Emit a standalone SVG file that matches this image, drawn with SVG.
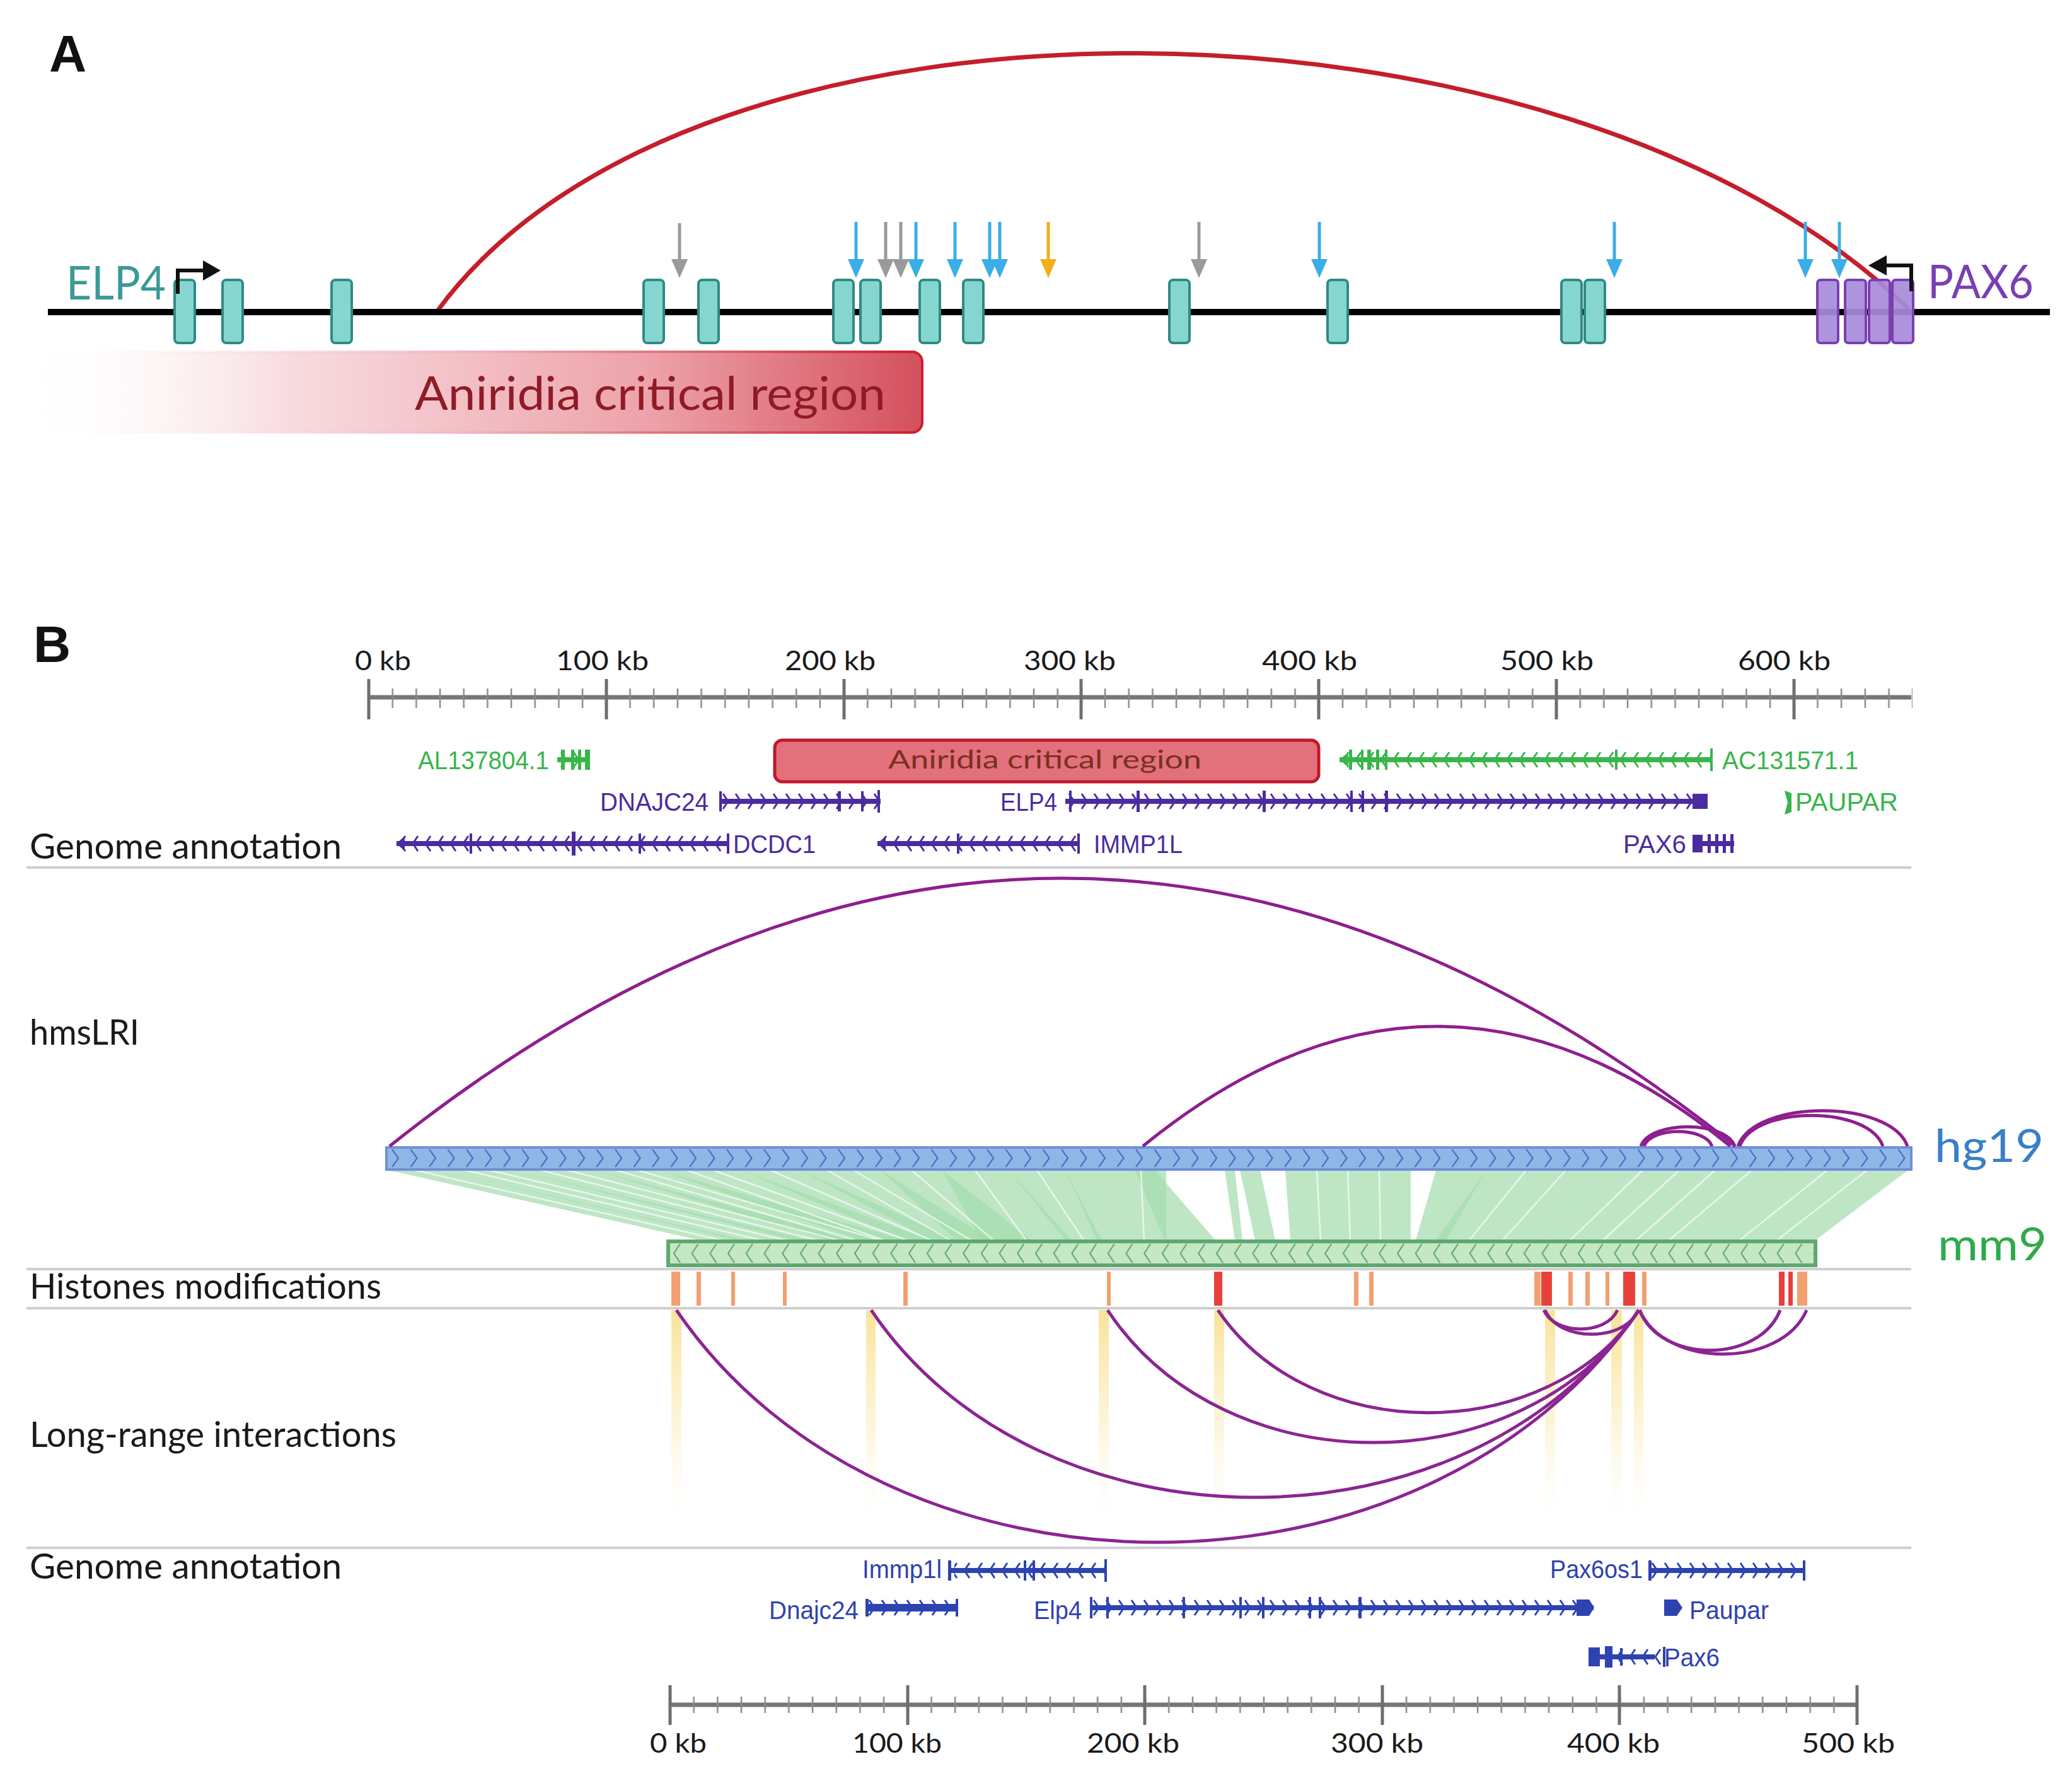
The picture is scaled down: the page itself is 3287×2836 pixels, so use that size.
<svg xmlns="http://www.w3.org/2000/svg" width="3287" height="2836" viewBox="0 0 3287 2836">
<style>
.lab{font-family:Lato,"Open Sans","Liberation Sans",sans-serif;fill:#1a1a1a}
.sec{font-family:Lato,"Open Sans","Liberation Sans",sans-serif;font-size:56px;fill:#1a1a1a}
.gene{font-family:"Liberation Sans",Arial,sans-serif;font-size:40px}
.hp{fill:#4B2BA0}.hg{fill:#38B54B}.mb{fill:#2D43B0}
.exT{fill:#86D6D0;stroke:#2F8A85;stroke-width:4}
.exP{fill:#A78BDA;stroke:#7A3FB0;stroke-width:4;fill-opacity:0.92}
.sep{stroke:#CFCFCF;stroke-width:4}
.arcH{fill:none;stroke:#8E1F8E;stroke-width:5}
.arcL{fill:none;stroke:#8B2592;stroke-width:5}
.syn{fill:#A3DCAC;fill-opacity:0.7}
.tex{stroke:#FFFFFF;stroke-width:2.5;stroke-opacity:0.65}
.hmO{fill:#F2A070}.hmR{fill:#E8413C}
.hl{fill:url(#hl)}
.maj{stroke:#6E6E6E;stroke-width:5}
</style>
<defs>
<linearGradient id="acrA" x1="0" y1="0" x2="1" y2="0">
<stop offset="0" stop-color="#FFFFFF" stop-opacity="0"/>
<stop offset="0.3" stop-color="#F8DCE0"/>
<stop offset="0.7" stop-color="#EDA2AA"/>
<stop offset="1" stop-color="#D4505D"/>
</linearGradient>
<linearGradient id="acrAs" x1="0" y1="0" x2="1" y2="0">
<stop offset="0" stop-color="#FFFFFF" stop-opacity="0"/>
<stop offset="0.5" stop-color="#F2B6BD"/>
<stop offset="1" stop-color="#C8202E"/>
</linearGradient>
<linearGradient id="hl" x1="0" y1="0" x2="0" y2="1">
<stop offset="0" stop-color="#F8E08E" stop-opacity="0.9"/>
<stop offset="0.5" stop-color="#FBEDBD" stop-opacity="0.6"/>
<stop offset="1" stop-color="#FFF9E8" stop-opacity="0"/>
</linearGradient>
<marker id="mBlue" markerUnits="userSpaceOnUse" viewBox="0 -14 30 28" refX="0" refY="0" markerWidth="30" markerHeight="28" orient="auto"><path d="M0,-13 L30,0 L0,13 z" fill="#3AAEE6"/></marker>
<marker id="mGrey" markerUnits="userSpaceOnUse" viewBox="0 -14 30 28" refX="0" refY="0" markerWidth="30" markerHeight="28" orient="auto"><path d="M0,-13 L30,0 L0,13 z" fill="#9A9A9A"/></marker>
<marker id="mOrange" markerUnits="userSpaceOnUse" viewBox="0 -14 30 28" refX="0" refY="0" markerWidth="30" markerHeight="28" orient="auto"><path d="M0,-13 L30,0 L0,13 z" fill="#F2AE1B"/></marker>
<pattern id="minor" patternUnits="userSpaceOnUse" x="-18.84" y="0" width="37.68" height="31"><rect x="17.6" y="0" width="2.5" height="31" fill="#8A8A8A"/></pattern>
<pattern id="hgC" patternUnits="userSpaceOnUse" x="0" y="0" width="29.5" height="34"><path d="M9,3 L19,17 L9,31" fill="none" stroke="#3F63C0" stroke-width="2"/></pattern>
<pattern id="mmC" patternUnits="userSpaceOnUse" x="0" y="0" width="28.7" height="38"><path d="M19,4 L9,19 L19,34" fill="none" stroke="#5FA06B" stroke-width="2"/></pattern>
<pattern id="pR" patternUnits="userSpaceOnUse" x="0" y="-15" width="20" height="30"><path d="M6,3 L14,15 L6,27" fill="none" stroke="#4B2BA0" stroke-width="3"/></pattern>
<pattern id="pL" patternUnits="userSpaceOnUse" x="0" y="-15" width="20" height="30"><path d="M14,3 L6,15 L14,27" fill="none" stroke="#4B2BA0" stroke-width="3"/></pattern>
<pattern id="gL" patternUnits="userSpaceOnUse" x="0" y="-15" width="20" height="30"><path d="M14,3 L6,15 L14,27" fill="none" stroke="#38B54B" stroke-width="3"/></pattern>
<pattern id="gR" patternUnits="userSpaceOnUse" x="0" y="-15" width="20" height="30"><path d="M6,3 L14,15 L6,27" fill="none" stroke="#38B54B" stroke-width="3"/></pattern>
<pattern id="bR" patternUnits="userSpaceOnUse" x="0" y="-15" width="20" height="30"><path d="M6,3 L14,15 L6,27" fill="none" stroke="#2D43B0" stroke-width="3"/></pattern>
<pattern id="bL" patternUnits="userSpaceOnUse" x="0" y="-15" width="20" height="30"><path d="M14,3 L6,15 L14,27" fill="none" stroke="#2D43B0" stroke-width="3"/></pattern>
</defs>
<rect width="3287" height="2836" fill="#FFFFFF"/>

<!-- ================= PANEL A ================= -->
<g id="panelA">
<text x="78" y="113" font-family="Liberation Sans, Arial, sans-serif" font-weight="bold" font-size="82" fill="#111">A</text>
<g id="acrA-box">
<rect x="21" y="558" width="1442" height="128" rx="16" fill="url(#acrA)" stroke="url(#acrAs)" stroke-width="4"/>
<text class="lab" x="658" y="650" font-size="74" style="fill:#8E1B25" textLength="747" lengthAdjust="spacingAndGlyphs">Aniridia critical region</text>
</g>
<path id="red-arc" d="M694,493 C1100,-62 2480,-40 3027,489" fill="none" stroke="#C41E2A" stroke-width="7"/>
<line id="chrom" x1="76" y1="495" x2="3252" y2="495" stroke="#000" stroke-width="10"/>
<g id="exons-teal">
<rect class="exT" x="277" y="444" width="32" height="100" rx="6"/>
<rect class="exT" x="353" y="444" width="32" height="100" rx="6"/>
<rect class="exT" x="526" y="444" width="32" height="100" rx="6"/>
<rect class="exT" x="1021" y="444" width="32" height="100" rx="6"/>
<rect class="exT" x="1108" y="444" width="32" height="100" rx="6"/>
<rect class="exT" x="1322" y="444" width="32" height="100" rx="6"/>
<rect class="exT" x="1365" y="444" width="32" height="100" rx="6"/>
<rect class="exT" x="1459" y="444" width="32" height="100" rx="6"/>
<rect class="exT" x="1528" y="444" width="32" height="100" rx="6"/>
<rect class="exT" x="1855" y="444" width="32" height="100" rx="6"/>
<rect class="exT" x="2106" y="444" width="32" height="100" rx="6"/>
<rect class="exT" x="2477" y="444" width="32" height="100" rx="6"/>
<rect class="exT" x="2514" y="444" width="32" height="100" rx="6"/>
</g>
<g id="exons-purple">
<rect class="exP" x="2883" y="444" width="33" height="100" rx="5"/>
<rect class="exP" x="2927" y="444" width="33" height="100" rx="5"/>
<rect class="exP" x="2965" y="444" width="33" height="100" rx="5"/>
<rect class="exP" x="3002" y="444" width="33" height="100" rx="5"/>
</g>
<g id="elp4-label">
<text class="lab" x="105" y="475" font-size="74" style="fill:#3B9996" textLength="158" lengthAdjust="spacingAndGlyphs">ELP4</text>
<path d="M282,466 V429 H324" fill="none" stroke="#111" stroke-width="6"/>
<polygon points="350,429 322,413 322,445" fill="#111"/>
</g>
<g id="pax6-label">
<text class="lab" x="3058" y="473" font-size="74" style="fill:#7A3FB5" textLength="168" lengthAdjust="spacingAndGlyphs">PAX6</text>
<path d="M3032,462 V421 H2990" fill="none" stroke="#111" stroke-width="6"/>
<polygon points="2964,421 2993,405 2993,437" fill="#111"/>
</g>
<g id="variant-arrows" stroke-width="5">
<line x1="1078" y1="354" x2="1078" y2="411" stroke="#9A9A9A" marker-end="url(#mGrey)"/>
<line x1="1405" y1="352" x2="1405" y2="411" stroke="#9A9A9A" marker-end="url(#mGrey)"/>
<line x1="1429" y1="352" x2="1429" y2="411" stroke="#9A9A9A" marker-end="url(#mGrey)"/>
<line x1="1902" y1="352" x2="1902" y2="411" stroke="#9A9A9A" marker-end="url(#mGrey)"/>
<line x1="1358" y1="352" x2="1358" y2="411" stroke="#3AAEE6" marker-end="url(#mBlue)"/>
<line x1="1453" y1="352" x2="1453" y2="411" stroke="#3AAEE6" marker-end="url(#mBlue)"/>
<line x1="1515" y1="352" x2="1515" y2="411" stroke="#3AAEE6" marker-end="url(#mBlue)"/>
<line x1="1570" y1="352" x2="1570" y2="411" stroke="#3AAEE6" marker-end="url(#mBlue)"/>
<line x1="1586" y1="352" x2="1586" y2="411" stroke="#3AAEE6" marker-end="url(#mBlue)"/>
<line x1="2093" y1="352" x2="2093" y2="411" stroke="#3AAEE6" marker-end="url(#mBlue)"/>
<line x1="2561" y1="352" x2="2561" y2="411" stroke="#3AAEE6" marker-end="url(#mBlue)"/>
<line x1="2864" y1="352" x2="2864" y2="411" stroke="#3AAEE6" marker-end="url(#mBlue)"/>
<line x1="2918" y1="352" x2="2918" y2="411" stroke="#3AAEE6" marker-end="url(#mBlue)"/>
<line x1="1663" y1="352" x2="1663" y2="411" stroke="#F2AE1B" marker-end="url(#mOrange)"/>
</g>
</g>

<!-- ================= PANEL B ================= -->
<g id="panelB">
<text x="53" y="1050" font-family="Liberation Sans, Arial, sans-serif" font-weight="bold" font-size="82" fill="#111">B</text>

<g id="ruler-top">
<line x1="585" y1="1106" x2="3032" y2="1106" stroke="#777" stroke-width="7"/>
<g transform="translate(585,1092)"><rect x="0" y="0" width="2449" height="31" fill="url(#minor)"/></g>
<g class="maj">
<line x1="585" y1="1077" x2="585" y2="1141"/><line x1="962" y1="1077" x2="962" y2="1141"/><line x1="1339" y1="1077" x2="1339" y2="1141"/><line x1="1715" y1="1077" x2="1715" y2="1141"/><line x1="2092" y1="1077" x2="2092" y2="1141"/><line x1="2469" y1="1077" x2="2469" y2="1141"/><line x1="2846" y1="1077" x2="2846" y2="1141"/>
</g>
<g class="lab" font-size="42">
<text x="563" y="1063" textLength="89" lengthAdjust="spacingAndGlyphs">0 kb</text>
<text x="882" y="1063" textLength="147" lengthAdjust="spacingAndGlyphs">100 kb</text>
<text x="1245" y="1063" textLength="144" lengthAdjust="spacingAndGlyphs">200 kb</text>
<text x="1624" y="1063" textLength="146" lengthAdjust="spacingAndGlyphs">300 kb</text>
<text x="2002" y="1063" textLength="151" lengthAdjust="spacingAndGlyphs">400 kb</text>
<text x="2380" y="1063" textLength="148" lengthAdjust="spacingAndGlyphs">500 kb</text>
<text x="2757" y="1063" textLength="147" lengthAdjust="spacingAndGlyphs">600 kb</text>
</g>
</g>

<g id="acrB">
<rect x="1229" y="1174" width="863" height="66" rx="12" fill="#E2717C" stroke="#C0182A" stroke-width="5"/>
<text class="lab" x="1409" y="1219" font-size="40" style="fill:#7A3020" textLength="497" lengthAdjust="spacingAndGlyphs">Aniridia critical region</text>
</g>

<g id="human-genes">
<g id="g-AL137804">
<text class="gene hg" x="871" y="1220" text-anchor="end" textLength="208" lengthAdjust="spacingAndGlyphs">AL137804.1</text>
<g transform="translate(884,1205)"><rect x="0" y="-4" width="52" height="8" class="hg"/><rect x="0" y="-15" width="52" height="30" fill="url(#gR)"/><rect x="6" y="-16" width="6" height="32" class="hg"/><rect x="22" y="-16" width="5" height="32" class="hg"/><rect x="33" y="-16" width="5" height="32" class="hg"/><rect x="44" y="-16" width="8" height="32" class="hg"/></g>
</g>
<g id="g-AC131571">
<g transform="translate(2125,1205)"><rect x="0" y="-4" width="592" height="8" class="hg"/><rect x="12" y="-15" width="580" height="30" fill="url(#gL)"/><path d="M0,0 L14,-12 L14,12 z" class="hg"/><rect x="15" y="-16" width="5" height="32" class="hg"/><rect x="34" y="-16" width="4" height="32" class="hg"/><rect x="44" y="-16" width="6" height="32" class="hg"/><rect x="58" y="-16" width="5" height="32" class="hg"/><rect x="72" y="-16" width="4" height="32" class="hg"/><rect x="437" y="-16" width="4" height="32" class="hg"/><rect x="588" y="-18" width="4" height="36" class="hg"/></g>
<text class="gene hg" x="2732" y="1220" textLength="216" lengthAdjust="spacingAndGlyphs">AC131571.1</text>
</g>
<g id="g-DNAJC24">
<text class="gene hp" x="1124" y="1286" text-anchor="end" textLength="172" lengthAdjust="spacingAndGlyphs">DNAJC24</text>
<g transform="translate(1141,1271)"><rect x="0" y="-4" width="256" height="8" class="hp"/><rect x="0" y="-15" width="256" height="30" fill="url(#pR)"/><rect x="0" y="-16" width="4" height="32" class="hp"/><rect x="188" y="-16" width="5" height="32" class="hp"/><rect x="225" y="-16" width="4" height="32" class="hp"/><rect x="251" y="-18" width="4" height="36" class="hp"/></g>
</g>
<g id="g-ELP4">
<text class="gene hp" x="1587" y="1286" textLength="90" lengthAdjust="spacingAndGlyphs">ELP4</text>
<g transform="translate(1690,1271)"><rect x="0" y="-4" width="1019" height="8" class="hp"/><rect x="0" y="-15" width="1000" height="30" fill="url(#pR)"/><rect x="6" y="-17" width="4" height="34" class="hp"/><rect x="113" y="-17" width="5" height="34" class="hp"/><rect x="313" y="-17" width="5" height="34" class="hp"/><rect x="452" y="-17" width="4" height="34" class="hp"/><rect x="470" y="-17" width="4" height="34" class="hp"/><rect x="507" y="-17" width="5" height="34" class="hp"/><rect x="995" y="-12" width="24" height="24" class="hp"/></g>
</g>
<g id="g-PAUPAR">
<path d="M2831,1254 L2842,1258 L2842,1288 L2831,1292 L2836,1273 z" class="hg"/>
<text class="gene hg" x="2848" y="1286" textLength="163" lengthAdjust="spacingAndGlyphs">PAUPAR</text>
</g>
<g id="g-DCDC1">
<g transform="translate(629,1338)"><rect x="0" y="-4" width="528" height="8" class="hp"/><rect x="10" y="-15" width="518" height="30" fill="url(#pL)"/><path d="M0,0 L13,-12 L13,12 z" class="hp"/><rect x="116" y="-16" width="4" height="32" class="hp"/><rect x="278" y="-19" width="6" height="38" class="hp"/><rect x="384" y="-16" width="4" height="32" class="hp"/><rect x="524" y="-16" width="4" height="32" class="hp"/></g>
<text class="gene hp" x="1163" y="1353" textLength="131" lengthAdjust="spacingAndGlyphs">DCDC1</text>
</g>
<g id="g-IMMP1L">
<g transform="translate(1392,1338)"><rect x="0" y="-4" width="321" height="8" class="hp"/><rect x="10" y="-15" width="311" height="30" fill="url(#pL)"/><path d="M0,0 L13,-12 L13,12 z" class="hp"/><rect x="126" y="-16" width="4" height="32" class="hp"/><rect x="317" y="-16" width="4" height="32" class="hp"/></g>
<text class="gene hp" x="1735" y="1353" textLength="141" lengthAdjust="spacingAndGlyphs">IMMP1L</text>
</g>
<g id="g-PAX6">
<text class="gene hp" x="2575" y="1353" textLength="100" lengthAdjust="spacingAndGlyphs">PAX6</text>
<g transform="translate(2685,1338)"><rect x="0" y="-4" width="66" height="8" class="hp"/><rect x="0" y="-14" width="16" height="28" class="hp"/><rect x="24" y="-15" width="5" height="30" class="hp"/><rect x="36" y="-15" width="5" height="30" class="hp"/><rect x="48" y="-15" width="5" height="30" class="hp"/><rect x="60" y="-15" width="5" height="30" class="hp"/></g>
</g>
</g>

<text class="sec" x="47" y="1362" textLength="495" lengthAdjust="spacingAndGlyphs">Genome annotation</text>
<line class="sep" x1="42" y1="1376" x2="3032" y2="1376"/>

<text class="sec" x="47" y="1657" textLength="174" lengthAdjust="spacingAndGlyphs">hmsLRI</text>

<g id="synteny">
<polygon class="syn" points="616,1856 700,1856 1180,1967 1110,1967"/>
<polygon class="syn" points="700,1856 815,1856 1285,1967 1170,1967"/>
<polygon class="syn" points="815,1856 943,1856 1365,1967 1262,1967"/>
<polygon class="syn" points="943,1856 1046,1856 1437,1967 1317,1967"/>
<polygon class="syn" points="1046,1856 1175,1856 1477,1967 1365,1967"/>
<polygon class="syn" points="1175,1856 1270,1856 1517,1967 1437,1967"/>
<polygon class="syn" points="1270,1856 1397,1856 1572,1967 1477,1967"/>
<polygon class="syn" points="1397,1856 1495,1856 1636,1967 1517,1967"/>
<polygon class="syn" points="1495,1856 1600,1856 1700,1967 1556,1967"/>
<polygon class="syn" points="1600,1856 1690,1856 1748,1967 1690,1967"/>
<polygon class="syn" points="1690,1856 1770,1856 1780,1967 1740,1967"/>
<polygon class="syn" points="1770,1856 1850,1856 1850,1967 1780,1967"/>
<polygon class="syn" points="1800,1856 1832,1856 1928,1967 1848,1967"/>
<polygon class="syn" points="1943,1856 1959,1856 1971,1967 1959,1967"/>
<polygon class="syn" points="1967,1856 1999,1856 2023,1967 1991,1967"/>
<polygon class="syn" points="2039,1856 2238,1856 2238,1967 2047,1967"/>
<polygon class="syn" points="2278,1856 2358,1856 2294,1967 2246,1967"/>
<polygon class="syn" points="2358,1856 2549,1856 2438,1967 2278,1967"/>
<polygon class="syn" points="2549,1856 2836,1856 2701,1967 2438,1967"/>
<polygon class="syn" points="2836,1856 3027,1856 2880,1967 2701,1967"/>
<g class="tex">
<line x1="658" y1="1856" x2="1145" y2="1967"/>
<line x1="738" y1="1856" x2="1208" y2="1967"/>
<line x1="776" y1="1856" x2="1246" y2="1967"/>
<line x1="857" y1="1856" x2="1296" y2="1967"/>
<line x1="900" y1="1856" x2="1330" y2="1967"/>
<line x1="977" y1="1856" x2="1357" y2="1967"/>
<line x1="1011" y1="1856" x2="1396" y2="1967"/>
<line x1="1089" y1="1856" x2="1402" y2="1967"/>
<line x1="1131" y1="1856" x2="1439" y2="1967"/>
<line x1="1222" y1="1856" x2="1477" y2="1967"/>
<line x1="1312" y1="1856" x2="1508" y2="1967"/>
<line x1="1354" y1="1856" x2="1540" y2="1967"/>
<line x1="1446" y1="1856" x2="1576" y2="1967"/>
<line x1="1547" y1="1856" x2="1628" y2="1967"/>
<line x1="1645" y1="1856" x2="1719" y2="1967"/>
<line x1="1810" y1="1856" x2="1815" y2="1967"/>
<line x1="2089" y1="1856" x2="2095" y2="1967"/>
<line x1="2138" y1="1856" x2="2142" y2="1967"/>
<line x1="2188" y1="1856" x2="2190" y2="1967"/>
<line x1="2421" y1="1856" x2="2331" y2="1967"/>
<line x1="2484" y1="1856" x2="2384" y2="1967"/>
<line x1="2606" y1="1856" x2="2491" y2="1967"/>
<line x1="2664" y1="1856" x2="2543" y2="1967"/>
<line x1="2721" y1="1856" x2="2596" y2="1967"/>
<line x1="2779" y1="1856" x2="2648" y2="1967"/>
<line x1="2899" y1="1856" x2="2760" y2="1967"/>
<line x1="2962" y1="1856" x2="2819" y2="1967"/>
</g>
</g>

<g id="hg19">
<g transform="translate(613,1820)"><rect x="0" y="0" width="2419" height="35" fill="#8FB6E6" stroke="#6F8FD8" stroke-width="4"/><rect x="2" y="0" width="2415" height="34" fill="url(#hgC)"/></g>
<text class="lab" x="3069" y="1843" font-size="72" style="fill:#3A7FC8" textLength="173" lengthAdjust="spacingAndGlyphs">hg19</text>
</g>
<g id="mm9">
<g transform="translate(1060,1969)"><rect x="0" y="0" width="1820" height="38" fill="#C3E8C3" stroke="#5FA86F" stroke-width="6"/><rect x="3" y="0" width="1814" height="38" fill="url(#mmC)"/></g>
<text class="lab" x="3074" y="1999" font-size="72" style="fill:#2EAA4A" textLength="173" lengthAdjust="spacingAndGlyphs">mm9</text>
</g>

<g id="hmsLRI-arcs">
<path class="arcH" d="M618,1818 Q1685,968 2753,1818"/>
<path class="arcH" d="M1813,1818 Q2279,1438 2745,1818"/>
<path class="arcH" d="M2603,1818 C2618,1777 2737,1777 2752,1818"/>
<path class="arcH" d="M2608,1818 C2619,1787 2705,1787 2716,1818"/>
<path class="arcH" d="M2757,1818 C2784,1743 2999,1743 3026,1818"/>
<path class="arcH" d="M2760,1818 C2783,1753 2964,1753 2987,1818"/>
</g>

<line class="sep" x1="42" y1="2013" x2="3032" y2="2013"/>
<text class="sec" x="47" y="2060" textLength="558" lengthAdjust="spacingAndGlyphs">Histones modifications</text>
<g id="histone-marks">
<rect class="hmO" x="1065" y="2017" width="14" height="54"/>
<rect class="hmO" x="1105" y="2017" width="7" height="54"/>
<rect class="hmO" x="1160" y="2017" width="6" height="54"/>
<rect class="hmO" x="1242" y="2017" width="6" height="54"/>
<rect class="hmO" x="1433" y="2017" width="7" height="54"/>
<rect class="hmO" x="1756" y="2017" width="6" height="54"/>
<rect class="hmR" x="1926" y="2017" width="13" height="54"/>
<rect class="hmO" x="2148" y="2017" width="7" height="54"/>
<rect class="hmO" x="2172" y="2017" width="7" height="54"/>
<rect class="hmO" x="2434" y="2017" width="10" height="54"/>
<rect class="hmR" x="2445" y="2017" width="17" height="54"/>
<rect class="hmO" x="2488" y="2017" width="7" height="54"/>
<rect class="hmO" x="2515" y="2017" width="7" height="54"/>
<rect class="hmO" x="2547" y="2017" width="6" height="54"/>
<rect class="hmR" x="2575" y="2017" width="19" height="54"/>
<rect class="hmO" x="2605" y="2017" width="7" height="54"/>
<rect class="hmR" x="2822" y="2017" width="9" height="54"/>
<rect class="hmR" x="2837" y="2017" width="7" height="54"/>
<rect class="hmO" x="2851" y="2017" width="16" height="54"/>
</g>
<line class="sep" x1="42" y1="2075" x2="3032" y2="2075"/>

<g id="highlights">
<rect class="hl" x="1065" y="2078" width="16" height="340"/>
<rect class="hl" x="1374" y="2078" width="15" height="340"/>
<rect class="hl" x="1743" y="2078" width="16" height="340"/>
<rect class="hl" x="1926" y="2078" width="16" height="340"/>
<rect class="hl" x="2451" y="2078" width="16" height="340"/>
<rect class="hl" x="2556" y="2078" width="17" height="340"/>
<rect class="hl" x="2592" y="2078" width="15" height="340"/>
</g>

<text class="sec" x="47" y="2295" textLength="582" lengthAdjust="spacingAndGlyphs">Long-range interactions</text>

<g id="LRI-arcs">
<path class="arcL" d="M1073,2078 C1409,2569 2264,2569 2600,2078"/>
<path class="arcL" d="M1382,2078 C1650,2474 2332,2474 2600,2078"/>
<path class="arcL" d="M1757,2078 C1942,2358 2415,2358 2600,2078"/>
<path class="arcL" d="M1932,2078 C2079,2295 2453,2295 2600,2078"/>
<path class="arcL" d="M2449,2078 C2467,2118 2548,2118 2566,2078"/>
<path class="arcL" d="M2451,2078 C2473,2129 2577,2129 2599,2078"/>
<path class="arcL" d="M2601,2078 C2634,2163 2791,2163 2824,2078"/>
<path class="arcL" d="M2601,2078 C2641,2171 2826,2171 2866,2078"/>
</g>

<line class="sep" x1="42" y1="2455" x2="3032" y2="2455"/>
<text class="sec" x="47" y="2504" textLength="495" lengthAdjust="spacingAndGlyphs">Genome annotation</text>

<g id="mouse-genes">
<g id="m-Immp1l">
<text class="gene mb" x="1368" y="2503" textLength="126" lengthAdjust="spacingAndGlyphs">Immp1l</text>
<g transform="translate(1504,2491)"><rect x="0" y="-4" width="252" height="8" class="mb"/><rect x="10" y="-15" width="242" height="30" fill="url(#bL)"/><rect x="0" y="-16" width="5" height="32" class="mb"/><rect x="120" y="-16" width="4" height="32" class="mb"/><rect x="134" y="-16" width="4" height="32" class="mb"/><rect x="248" y="-18" width="4" height="36" class="mb"/></g>
</g>
<g id="m-Pax6os1">
<text class="gene mb" x="2459" y="2503" textLength="147" lengthAdjust="spacingAndGlyphs">Pax6os1</text>
<g transform="translate(2615,2491)"><rect x="0" y="-4" width="249" height="8" class="mb"/><rect x="0" y="-15" width="249" height="30" fill="url(#bR)"/><rect x="0" y="-16" width="5" height="32" class="mb"/><rect x="245" y="-16" width="4" height="32" class="mb"/></g>
</g>
<g id="m-Dnajc24">
<text class="gene mb" x="1220" y="2568" textLength="142" lengthAdjust="spacingAndGlyphs">Dnajc24</text>
<g transform="translate(1373,2550)"><rect x="0" y="-6" width="147" height="12" class="mb"/><rect x="0" y="-15" width="147" height="30" fill="url(#bR)"/><rect x="0" y="-14" width="5" height="28" class="mb"/><rect x="143" y="-14" width="4" height="28" class="mb"/></g>
</g>
<g id="m-Elp4">
<text class="gene mb" x="1640" y="2568" textLength="76" lengthAdjust="spacingAndGlyphs">Elp4</text>
<g transform="translate(1729,2550)"><rect x="0" y="-4" width="799" height="8" class="mb"/><rect x="0" y="-15" width="775" height="30" fill="url(#bR)"/><rect x="0" y="-17" width="4" height="34" class="mb"/><rect x="26" y="-17" width="4" height="34" class="mb"/><rect x="147" y="-17" width="4" height="34" class="mb"/><rect x="237" y="-17" width="4" height="34" class="mb"/><rect x="273" y="-17" width="4" height="34" class="mb"/><rect x="347" y="-17" width="4" height="34" class="mb"/><rect x="363" y="-17" width="4" height="34" class="mb"/><rect x="426" y="-17" width="5" height="34" class="mb"/><path d="M772,-13 L792,-13 L800,0 L792,13 L772,13 z" class="mb"/></g>
</g>
<g id="m-Paupar">
<path d="M2640,2537 L2660,2537 L2669,2550 L2660,2563 L2640,2563 z" class="mb"/>
<text class="gene mb" x="2680" y="2568" textLength="126" lengthAdjust="spacingAndGlyphs">Paupar</text>
</g>
<g id="m-Pax6">
<g transform="translate(2520,2628)"><rect x="0" y="-4" width="105" height="8" class="mb"/><rect x="0" y="-15" width="18" height="30" class="mb"/><rect x="26" y="-17" width="12" height="34" class="mb"/><rect x="38" y="-15" width="84" height="30" fill="url(#bL)"/><rect x="50" y="-14" width="4" height="28" class="mb"/><rect x="118" y="-16" width="4" height="32" class="mb"/></g>
<text class="gene mb" x="2640" y="2643" textLength="88" lengthAdjust="spacingAndGlyphs">Pax6</text>
</g>
</g>

<g id="ruler-bottom">
<line x1="1063" y1="2704" x2="2946" y2="2704" stroke="#777" stroke-width="7"/>
<g transform="translate(1063,2691)"><rect x="0" y="0" width="1885" height="26" fill="url(#minor)"/></g>
<g class="maj">
<line x1="1063" y1="2673" x2="1063" y2="2736"/><line x1="1440" y1="2673" x2="1440" y2="2736"/><line x1="1816" y1="2673" x2="1816" y2="2736"/><line x1="2193" y1="2673" x2="2193" y2="2736"/><line x1="2569" y1="2673" x2="2569" y2="2736"/><line x1="2946" y1="2673" x2="2946" y2="2736"/>
</g>
<g class="lab" font-size="42">
<text x="1031" y="2780" textLength="90" lengthAdjust="spacingAndGlyphs">0 kb</text>
<text x="1352" y="2780" textLength="142" lengthAdjust="spacingAndGlyphs">100 kb</text>
<text x="1724" y="2780" textLength="147" lengthAdjust="spacingAndGlyphs">200 kb</text>
<text x="2111" y="2780" textLength="147" lengthAdjust="spacingAndGlyphs">300 kb</text>
<text x="2486" y="2780" textLength="147" lengthAdjust="spacingAndGlyphs">400 kb</text>
<text x="2858" y="2780" textLength="148" lengthAdjust="spacingAndGlyphs">500 kb</text>
</g>
</g>
</g>
</svg>
